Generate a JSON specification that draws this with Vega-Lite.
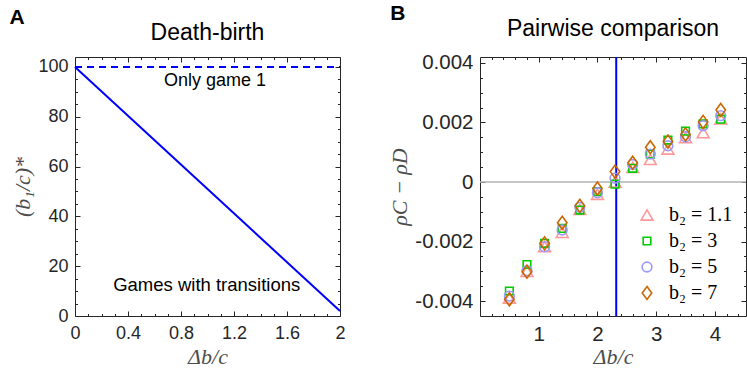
{
  "$schema": "https://vega.github.io/schema/vega-lite/v6.json",
  "padding": {"left": 9, "top": 3, "right": 0, "bottom": 0},
  "background": "white",
  "spacing": 42,
  "resolve": {"legend": {"color": "independent", "shape": "independent", "size": "independent"}},
  "config": {
    "view": {"stroke": "#262626", "strokeWidth": 1},
    "axis": {"grid": false, "domain": false, "labelFlush": false, "labelOverlap": false, "tickColor": "#262626", "tickWidth": 1, "labelColor": "#262626", "labelFont": "Liberation Sans", "titleFont": "Liberation Serif", "titleFontStyle": "italic", "titleFontWeight": "normal", "titleColor": "#4d4d4d"}
  },
  "hconcat": [
    {
      "title": {"text": "A", "anchor": "start", "frame": "bounds", "fontSize": 21, "fontWeight": "bold", "font": "Liberation Sans", "color": "black", "offset": -7, "dx": -2},
      "vconcat": [
        {
          "width": 265, "height": 259,
          "title": {"text": "Death-birth", "fontSize": 23, "font": "Liberation Sans", "fontWeight": "normal", "color": "black", "offset": 12},
          "resolve": {"axis": {"x": "independent", "y": "independent"}},
          "layer": [
            {
              "data": {"values": [{"db": 0, "b1": 100}, {"db": 2, "b1": 2}]},
              "mark": {"type": "line", "color": "#0000ff", "strokeWidth": 2},
              "encoding": {
                "x": {"field": "db", "type": "quantitative", "scale": {"domain": [0, 2], "nice": false}, "axis": {"orient": "bottom", "title": "Δb/c", "values": [0, 0.4, 0.8, 1.2, 1.6, 2], "format": "~g", "tickSize": -5, "labelPadding": 13, "labelFontSize": 18, "titleFontSize": 22, "titlePadding": 4}},
                "y": {"field": "b1", "type": "quantitative", "scale": {"domain": [0, 104], "nice": false, "zero": false}, "axis": {"orient": "left", "title": "(b₁/c)*", "values": [0, 20, 40, 60, 80, 100], "tickSize": -5, "labelPadding": 12, "labelFontSize": 18, "titleFontSize": 22, "titlePadding": 3}}
              }
            },
            {
              "data": {"values": [{"db": 0, "b1": 100}, {"db": 2, "b1": 100}]},
              "mark": {"type": "line", "color": "#0000ff", "strokeWidth": 2, "strokeDash": [7, 5]},
              "encoding": {
                "x": {"field": "db", "type": "quantitative", "axis": {"orient": "top", "title": null, "labels": false, "values": [0, 0.4, 0.8, 1.2, 1.6, 2], "tickSize": -5}},
                "y": {"field": "b1", "type": "quantitative", "axis": {"orient": "right", "title": null, "labels": false, "values": [0, 20, 40, 60, 80, 100], "tickSize": -5}}
              }
            },
            {
              "data": {"values": [{"db": 1.057, "b1": 94.5, "label": "Only game 1"}]},
              "mark": {"type": "text", "font": "Liberation Sans", "fontSize": 18, "color": "black", "baseline": "middle", "align": "center"},
              "encoding": {
                "x": {"field": "db", "type": "quantitative", "axis": {"orient": "bottom", "title": null, "labels": false, "values": [0.1, 0.2, 0.3, 0.5, 0.6, 0.7, 0.9, 1, 1.1, 1.3, 1.4, 1.5, 1.7, 1.8, 1.9], "tickSize": -2.5}},
                "y": {"field": "b1", "type": "quantitative", "axis": {"orient": "left", "title": null, "labels": false, "values": [5, 10, 15, 25, 30, 35, 45, 50, 55, 65, 70, 75, 85, 90, 95], "tickSize": -2.5}},
                "text": {"field": "label"}
              }
            },
            {
              "data": {"values": [{"db": 0.994, "b1": 12.5, "label": "Games with transitions"}]},
              "mark": {"type": "text", "font": "Liberation Sans", "fontSize": 18.5, "color": "black", "baseline": "middle", "align": "center"},
              "encoding": {
                "x": {"field": "db", "type": "quantitative", "axis": {"orient": "top", "title": null, "labels": false, "values": [0.1, 0.2, 0.3, 0.5, 0.6, 0.7, 0.9, 1, 1.1, 1.3, 1.4, 1.5, 1.7, 1.8, 1.9], "tickSize": -2.5}},
                "y": {"field": "b1", "type": "quantitative", "axis": {"orient": "right", "title": null, "labels": false, "values": [5, 10, 15, 25, 30, 35, 45, 50, 55, 65, 70, 75, 85, 90, 95], "tickSize": -2.5}},
                "text": {"field": "label"}
              }
            }
          ]
        }
      ]
    },
    {
      "title": {"text": "B", "anchor": "start", "frame": "bounds", "fontSize": 21, "fontWeight": "bold", "font": "Liberation Sans", "color": "black", "offset": -7, "dx": 2},
      "resolve": {"legend": {"color": "independent", "shape": "independent", "size": "independent"}},
      "vconcat": [
        {
          "width": 266, "height": 259,
          "title": {"text": "Pairwise comparison", "fontSize": 23, "font": "Liberation Sans", "fontWeight": "normal", "color": "black", "offset": 12},
          "resolve": {"axis": {"x": "independent", "y": "independent"}},
          "layer": [
            {
              "data": {"values": [{"rho": 0}]},
              "mark": {"type": "rule", "color": "#b3b3b3", "strokeWidth": 1.5},
              "encoding": {
                "y": {"field": "rho", "type": "quantitative", "scale": {"domain": [-0.0045, 0.0042], "nice": false, "zero": false}, "axis": {"orient": "right", "title": null, "labels": false, "values": [-0.004, -0.002, 0, 0.002, 0.004], "tickSize": -5}}
              }
            },
            {
              "data": {"values": [{"db": 2.32}]},
              "mark": {"type": "rule", "color": "#0000ff", "strokeWidth": 2},
              "encoding": {
                "x": {"field": "db", "type": "quantitative", "scale": {"domain": [0, 4.53], "nice": false, "zero": false}, "axis": {"orient": "top", "title": null, "labels": false, "values": [1, 2, 3, 4], "tickSize": -5}}
              }
            },
            {
              "data": {"name": "pts"},
              "mark": {"type": "point", "opacity": 0},
              "encoding": {
                "x": {"field": "db", "type": "quantitative", "axis": {"orient": "bottom", "title": null, "labels": false, "values": [0.2, 0.4, 0.6, 0.8, 1.2, 1.4, 1.6, 1.8, 2.2, 2.4, 2.6, 2.8, 3.2, 3.4, 3.6, 3.8, 4.2, 4.4], "tickSize": -2.5}},
                "y": {"field": "rho", "type": "quantitative", "axis": {"orient": "left", "title": null, "labels": false, "values": [-0.0035, -0.003, -0.0025, -0.0015, -0.001, -0.0005, 0.0005, 0.001, 0.0015, 0.0025, 0.003, 0.0035], "tickSize": -2.5}}
              }
            },
            {
              "data": {"name": "pts"},
              "mark": {"type": "point", "opacity": 0},
              "encoding": {
                "x": {"field": "db", "type": "quantitative", "axis": {"orient": "top", "title": null, "labels": false, "values": [0.2, 0.4, 0.6, 0.8, 1.2, 1.4, 1.6, 1.8, 2.2, 2.4, 2.6, 2.8, 3.2, 3.4, 3.6, 3.8, 4.2, 4.4], "tickSize": -2.5}},
                "y": {"field": "rho", "type": "quantitative", "axis": {"orient": "right", "title": null, "labels": false, "values": [-0.0035, -0.003, -0.0025, -0.0015, -0.001, -0.0005, 0.0005, 0.001, 0.0015, 0.0025, 0.003, 0.0035], "tickSize": -2.5}}
              }
            },
            {
              "data": {"name": "pts"},
              "mark": {"type": "point", "filled": false, "strokeWidth": 1.6, "opacity": 1},
              "encoding": {
                "x": {"field": "db", "type": "quantitative", "axis": {"orient": "bottom", "title": "Δb/c", "values": [1, 2, 3, 4], "tickSize": -5, "labelPadding": 13, "labelFontSize": 20.5, "titleFontSize": 22, "titlePadding": 2}},
                "y": {"field": "rho", "type": "quantitative", "axis": {"orient": "left", "title": "ρC − ρD", "values": [-0.004, -0.002, 0, 0.002, 0.004], "format": ".3~f", "labelExpr": "replace(datum.label, '−', '-')", "tickSize": -5, "labelPadding": 12, "labelFontSize": 20.5, "titleFontSize": 22, "titlePadding": 3}},
                "color": {"field": "s", "type": "nominal", "sort": null, "scale": {"domain": ["b₂ = 1.1", "b₂ = 3", "b₂ = 5", "b₂ = 7"], "range": ["#ff9999", "#00cc00", "#9999ff", "#cc6600"]}, "legend": {"title": null, "orient": "bottom-right", "offset": 13, "padding": 0, "labelFont": "Liberation Serif", "labelFontStyle": "normal", "labelFontSize": 20, "labelColor": "black", "symbolStrokeWidth": 1.6, "rowPadding": 6, "labelOffset": 12}},
                "shape": {"field": "s", "type": "nominal", "sort": null, "scale": {"domain": ["b₂ = 1.1", "b₂ = 3", "b₂ = 5", "b₂ = 7"], "range": ["triangle-up", "square", "circle", "M0,-1.1L0.8,0L0,1.1L-0.8,0Z"]}},
                "size": {"field": "s", "type": "nominal", "sort": null, "scale": {"type": "ordinal", "domain": ["b₂ = 1.1", "b₂ = 3", "b₂ = 5", "b₂ = 7"], "range": [140, 58, 95, 140]}}
              }
            }
          ]
        }
      ]
    }
  ],
  "datasets": {
    "pts": [
      {"s": "b₂ = 1.1", "db": 0.5, "rho": -0.0039},
      {"s": "b₂ = 1.1", "db": 0.8, "rho": -0.003},
      {"s": "b₂ = 1.1", "db": 1.1, "rho": -0.00217},
      {"s": "b₂ = 1.1", "db": 1.4, "rho": -0.00169},
      {"s": "b₂ = 1.1", "db": 1.7, "rho": -0.00092},
      {"s": "b₂ = 1.1", "db": 2.0, "rho": -0.00041},
      {"s": "b₂ = 1.1", "db": 2.3, "rho": 0.0},
      {"s": "b₂ = 1.1", "db": 2.6, "rho": 0.00049},
      {"s": "b₂ = 1.1", "db": 2.9, "rho": 0.00076},
      {"s": "b₂ = 1.1", "db": 3.2, "rho": 0.00111},
      {"s": "b₂ = 1.1", "db": 3.5, "rho": 0.00149},
      {"s": "b₂ = 1.1", "db": 3.8, "rho": 0.00166},
      {"s": "b₂ = 1.1", "db": 4.1, "rho": 0.00212},
      {"s": "b₂ = 3", "db": 0.5, "rho": -0.00366},
      {"s": "b₂ = 3", "db": 0.8, "rho": -0.00277},
      {"s": "b₂ = 3", "db": 1.1, "rho": -0.00206},
      {"s": "b₂ = 3", "db": 1.4, "rho": -0.00156},
      {"s": "b₂ = 3", "db": 1.7, "rho": -0.00094},
      {"s": "b₂ = 3", "db": 2.0, "rho": -0.00032},
      {"s": "b₂ = 3", "db": 2.3, "rho": -0.00007},
      {"s": "b₂ = 3", "db": 2.6, "rho": 0.00046},
      {"s": "b₂ = 3", "db": 2.9, "rho": 0.00094},
      {"s": "b₂ = 3", "db": 3.2, "rho": 0.00141},
      {"s": "b₂ = 3", "db": 3.5, "rho": 0.00171},
      {"s": "b₂ = 3", "db": 3.8, "rho": 0.00195},
      {"s": "b₂ = 3", "db": 4.1, "rho": 0.00211},
      {"s": "b₂ = 5", "db": 0.5, "rho": -0.00383},
      {"s": "b₂ = 5", "db": 0.8, "rho": -0.00298},
      {"s": "b₂ = 5", "db": 1.1, "rho": -0.00217},
      {"s": "b₂ = 5", "db": 1.4, "rho": -0.00161},
      {"s": "b₂ = 5", "db": 1.7, "rho": -0.00085},
      {"s": "b₂ = 5", "db": 2.0, "rho": -0.00036},
      {"s": "b₂ = 5", "db": 2.3, "rho": 0.00013},
      {"s": "b₂ = 5", "db": 2.6, "rho": 0.00059},
      {"s": "b₂ = 5", "db": 2.9, "rho": 0.00094},
      {"s": "b₂ = 5", "db": 3.2, "rho": 0.00122},
      {"s": "b₂ = 5", "db": 3.5, "rho": 0.00152},
      {"s": "b₂ = 5", "db": 3.8, "rho": 0.00189},
      {"s": "b₂ = 5", "db": 4.1, "rho": 0.00223},
      {"s": "b₂ = 7", "db": 0.5, "rho": -0.00394},
      {"s": "b₂ = 7", "db": 0.8, "rho": -0.00301},
      {"s": "b₂ = 7", "db": 1.1, "rho": -0.00206},
      {"s": "b₂ = 7", "db": 1.4, "rho": -0.00137},
      {"s": "b₂ = 7", "db": 1.7, "rho": -0.0008},
      {"s": "b₂ = 7", "db": 2.0, "rho": -0.00022},
      {"s": "b₂ = 7", "db": 2.3, "rho": 0.00035},
      {"s": "b₂ = 7", "db": 2.6, "rho": 0.00065},
      {"s": "b₂ = 7", "db": 2.9, "rho": 0.00117},
      {"s": "b₂ = 7", "db": 3.2, "rho": 0.00136},
      {"s": "b₂ = 7", "db": 3.5, "rho": 0.0016},
      {"s": "b₂ = 7", "db": 3.8, "rho": 0.00202},
      {"s": "b₂ = 7", "db": 4.1, "rho": 0.00242}
    ]
  }
}
